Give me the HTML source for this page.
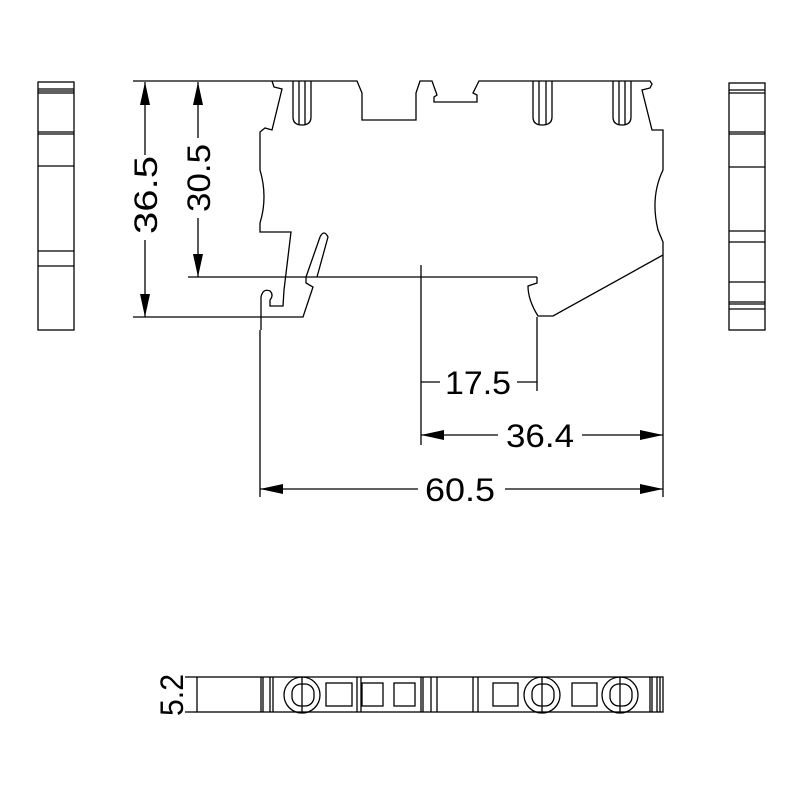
<!DOCTYPE html>
<html><head><style>html,body{margin:0;padding:0;background:#fff}svg{display:block}</style></head>
<body>
<svg width="800" height="800" viewBox="0 0 800 800" xmlns="http://www.w3.org/2000/svg">
<g fill="none" stroke="#000" stroke-width="1.3">
<rect x="38" y="82" width="36" height="248"/>
<line x1="38" y1="89" x2="74" y2="89"/><line x1="38" y1="91" x2="74" y2="91"/><line x1="38" y1="93" x2="74" y2="93"/>
<line x1="38" y1="132" x2="74" y2="132"/><line x1="38" y1="134" x2="74" y2="134"/>
<line x1="38" y1="166" x2="74" y2="166"/><line x1="38" y1="251" x2="74" y2="251"/><line x1="38" y1="266" x2="74" y2="266"/>
<rect x="729" y="83" width="36" height="247"/>
<line x1="729" y1="90" x2="765" y2="90"/><line x1="729" y1="93" x2="765" y2="93"/>
<line x1="729" y1="132" x2="765" y2="132"/><line x1="729" y1="134" x2="765" y2="134"/>
<line x1="729" y1="167" x2="765" y2="167"/><line x1="729" y1="231" x2="765" y2="231"/><line x1="729" y1="242" x2="765" y2="242"/>
<line x1="729" y1="282" x2="765" y2="282"/><line x1="729" y1="302" x2="765" y2="302"/><line x1="729" y1="304" x2="765" y2="304"/><line x1="729" y1="309" x2="765" y2="309"/>

<path d="M272,81 L357,81 L362,93 L362,120 L416,120 L416,93 L420,81 L432,81 L437,95 L434,97 L434,102 L477,102 L477,95 L473,93 L479,81 L650,81 L652,84 L650,88 L642,90 L652,130 L663,130 L663,170 Q650,197 658,230 L663,242 L663,255 L553,316 L538,316 Q528,300 528,286 L537,283 L537,277"/>
<path d="M272,81 L274,87 L282,89 L272,130 L265,128 L260,132 L260,170 Q268,197 260,223 L260,232 L291,232 L284,290 L283,306 L270,306 L270,300 Q274,295 270,291 Q263,288 261,297 L261,330"/>
<path d="M261,317 L303,317 L313,287 L306,283 L306,277 L320,237 Q324,229 328,237 L317,277"/>
<g>
<path d="M293,81 L293,117 Q293,125 302,125 Q311,125 311,117 L311,81"/>
<line x1="299" y1="81" x2="299" y2="125"/><line x1="305" y1="81" x2="305" y2="125"/>
<path d="M533,81 L533,117 Q533,125 542,125 Q552,125 552,117 L552,81"/>
<line x1="539" y1="81" x2="539" y2="125"/><line x1="546" y1="81" x2="546" y2="125"/>
<path d="M613,81 L613,117 Q613,125 622,125 Q631,125 631,117 L631,81"/>
<line x1="619" y1="81" x2="619" y2="125"/><line x1="625" y1="81" x2="625" y2="125"/>
</g>
<line x1="133" y1="81" x2="272" y2="81"/>
<line x1="133" y1="317" x2="261" y2="317"/>
<line x1="188" y1="277" x2="537" y2="277"/>
<line x1="145" y1="82" x2="145" y2="155"/><line x1="145" y1="240" x2="145" y2="317"/>
<line x1="198" y1="82" x2="198" y2="138"/><line x1="198" y1="218" x2="198" y2="277"/>
<line x1="421" y1="265" x2="421" y2="445"/>
<line x1="537" y1="317" x2="537" y2="391"/>
<line x1="663" y1="255" x2="663" y2="497"/>
<line x1="260" y1="330" x2="260" y2="497"/>
<line x1="421" y1="382" x2="440" y2="382"/><line x1="517" y1="382" x2="537" y2="382"/>
<line x1="421" y1="435" x2="498" y2="435"/><line x1="582" y1="435" x2="663" y2="435"/>
<line x1="260" y1="489" x2="418" y2="489"/><line x1="505" y1="489" x2="663" y2="489"/>
<rect x="197" y="677" width="466" height="35"/>
<line x1="185" y1="677" x2="197" y2="677"/><line x1="185" y1="712" x2="197" y2="712"/>
<line x1="261" y1="677" x2="261" y2="712"/><line x1="263" y1="677" x2="263" y2="712"/><line x1="270" y1="677" x2="270" y2="712"/><line x1="273" y1="677" x2="273" y2="712"/>
<line x1="357" y1="677" x2="357" y2="712"/><line x1="361" y1="677" x2="361" y2="712"/>
<line x1="421" y1="677" x2="421" y2="712"/><line x1="423" y1="677" x2="423" y2="712"/><line x1="431" y1="677" x2="431" y2="712"/><line x1="437" y1="677" x2="437" y2="712"/>
<line x1="473" y1="677" x2="473" y2="712"/><line x1="478" y1="677" x2="478" y2="712"/>
<line x1="650" y1="677" x2="650" y2="712"/><line x1="652" y1="677" x2="652" y2="712"/><line x1="657" y1="677" x2="657" y2="712"/><line x1="660" y1="677" x2="660" y2="712"/>
<rect x="326" y="683" width="26" height="23"/><rect x="362" y="683" width="21" height="23"/><rect x="394" y="683" width="21" height="23"/>
<rect x="493" y="683" width="25" height="23"/><rect x="572" y="683" width="25" height="23"/>
<g>
<circle cx="302" cy="695" r="18"/><rect x="292" y="684" width="22" height="22" rx="9"/><line x1="302" y1="677" x2="302" y2="712"/>
<circle cx="542" cy="695" r="18"/><rect x="532" y="684" width="22" height="22" rx="9"/><line x1="542" y1="677" x2="542" y2="712"/>
<circle cx="620" cy="695" r="18"/><rect x="610" y="684" width="22" height="22" rx="9"/><line x1="620" y1="677" x2="620" y2="712"/>
</g>
</g>
<g fill="#000">
<polygon points="145,82 140,105 150,105"/><polygon points="145,317 140,294 150,294"/>
<polygon points="198,82 193,105 203,105"/><polygon points="198,277 193,254 203,254"/>
<polygon points="421,435 444,430 444,440"/><polygon points="663,435 640,430 640,440"/>
<polygon points="260,489 283,484 283,494"/><polygon points="663,489 640,484 640,494"/>
</g>
<g font-family="Liberation Sans, sans-serif" font-size="32" fill="#000">
<text x="445" y="394" textLength="66" lengthAdjust="spacingAndGlyphs">17.5</text>
<text x="506" y="447" textLength="68" lengthAdjust="spacingAndGlyphs">36.4</text>
<text x="425" y="501" textLength="70" lengthAdjust="spacingAndGlyphs">60.5</text>
<text transform="translate(157,234) rotate(-90)" textLength="78" lengthAdjust="spacingAndGlyphs">36.5</text>
<text transform="translate(210,212) rotate(-90)" textLength="68" lengthAdjust="spacingAndGlyphs">30.5</text>
<text transform="translate(183,716) rotate(-90)" textLength="42" lengthAdjust="spacingAndGlyphs">5.2</text>
</g>
</svg>
</body></html>
